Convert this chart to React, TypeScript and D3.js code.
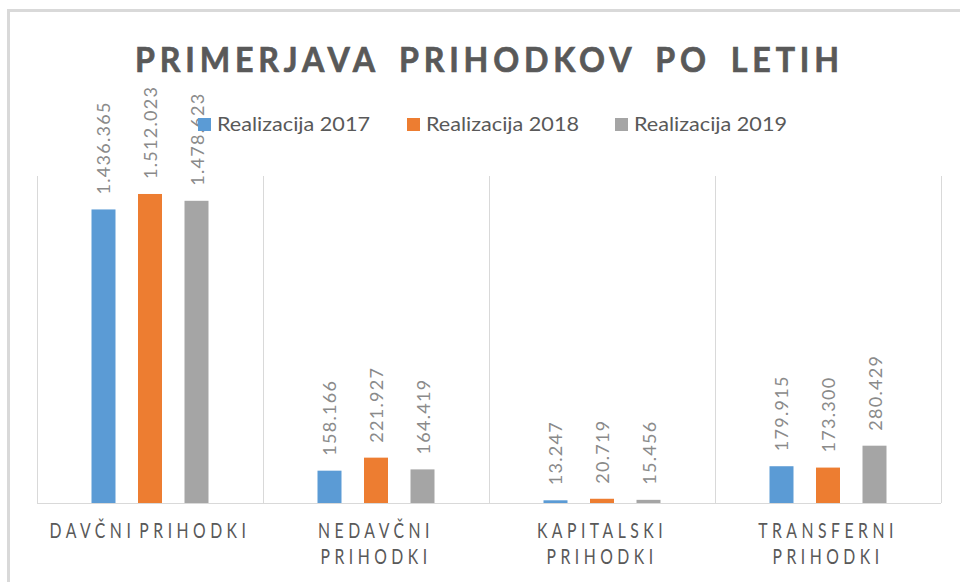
import React from "react";
import * as d3 from "d3";

const title = "PRIMERJAVA PRIHODKOV PO LETIH";
const categories = ["DAVČNI PRIHODKI", "NEDAVČNI PRIHODKI", "KAPITALSKI PRIHODKI", "TRANSFERNI PRIHODKI"];
const seriesNames = ["Realizacija 2017", "Realizacija 2018", "Realizacija 2019"];
const values2017 = [1436.365, 158.166, 13.247, 179.915];
const values2018 = [1512.023, 221.927, 20.719, 173.3];
const values2019 = [1478.623, 164.419, 15.456, 280.429];
const seriesValues = [values2017, values2018, values2019];
const colors = ["#5B9BD5", "#ED7D31", "#A5A5A5"];
const yMax = 1600;

const W = 960;
const H = 582;
const plot = { left: 37, right: 941, top: 176, bottom: 503 };

const fmt = (v: number) => {
  const s = v.toFixed(3);
  const [intPart, dec] = s.split(".");
  const withSep = intPart.replace(/\B(?=(\d{3})+(?!\d))/g, ".");
  return withSep + "." + dec;
};

function wrapLabel(label: string, maxChars: number): string[] {
  if (label.length <= maxChars) return [label];
  return label.split(" ");
}

export default function App() {
  const x0 = d3.scaleBand<string>().domain(categories).range([plot.left, plot.right]).padding(0);
  const x1 = d3
    .scaleBand<number>()
    .domain([0, 1, 2])
    .range([0, x0.bandwidth()])
    .paddingInner(0.484)
    .paddingOuter(1.172);
  const y = d3.scaleLinear().domain([0, yMax]).range([plot.bottom, plot.top]);

  const boundaries = [plot.left, ...categories.map((c) => (x0(c) as number) + x0.bandwidth())];

  const font = "Lato, 'Open Sans', 'DejaVu Sans', sans-serif";

  const legendX = [198, 407, 615];

  return (
    <svg
      width={W}
      height={H}
      style={{ position: "absolute", left: 0, top: 0, background: "#fff" }}
      fontFamily={font}
    >
      <rect x={0} y={0} width={W} height={H} fill="#fff" />
      <path d={`M8.5,${H} V10.5 H${W}`} fill="none" stroke="#d9d9d9" strokeWidth={3} />

      {/* title */}
      <text
        transform="translate(487,72) scale(0.92,1)"
        textAnchor="middle"
        fontSize={35}
        fontWeight="bold"
        fill="#595959"
        stroke="#595959"
        strokeWidth={0.7}
        wordSpacing={8}
        textLength={704 / 0.92}
        lengthAdjust="spacing"
      >
        {title}
      </text>

      {/* gridlines / separators */}
      {boundaries.map((bx, i) => (
        <line key={i} x1={bx + 0.5} x2={bx + 0.5} y1={plot.top} y2={plot.bottom} stroke="#d9d9d9" strokeWidth={1} />
      ))}
      <line x1={plot.left} x2={plot.right} y1={plot.bottom + 0.5} y2={plot.bottom + 0.5} stroke="#d9d9d9" strokeWidth={1} />

      {/* bars */}
      {categories.map((c, ci) =>
        seriesValues.map((vals, si) => {
          const bx = (x0(c) as number) + (x1(si) as number);
          const bw = x1.bandwidth();
          const top = y(vals[ci]);
          return (
            <rect
              key={`${ci}-${si}`}
              x={bx}
              y={top}
              width={bw}
              height={plot.bottom - top}
              fill={colors[si]}
            />
          );
        })
      )}

      {/* data labels */}
      {categories.map((c, ci) =>
        seriesValues.map((vals, si) => {
          const cx = (x0(c) as number) + (x1(si) as number) + x1.bandwidth() / 2;
          const top = y(vals[ci]);
          return (
            <text
              key={`l-${ci}-${si}`}
              transform={`translate(${cx + 7},${top - 15}) rotate(-90)`}
              fontSize={18}
              fill="#8a8a8a"
              letterSpacing={1.3}
            >
              {fmt(vals[ci])}
            </text>
          );
        })
      )}

      {/* legend */}
      {seriesNames.map((n, i) => (
        <g key={n}>
          <rect x={legendX[i]} y={118} width={13} height={13} fill={colors[i]} />
          <text
            x={legendX[i] + 19}
            y={131}
            fontSize={20}
            fill="#595959"
            textLength={153}
            lengthAdjust="spacingAndGlyphs"
          >
            {n}
          </text>
        </g>
      ))}

      {/* category labels */}
      {categories.map((c) => {
        const cx = (x0(c) as number) + x0.bandwidth() / 2;
        const lines = wrapLabel(c, 15);
        return lines.map((ln, li) => (
          <text
            key={`${c}-${li}`}
            transform={`translate(${cx},${538 + li * 26}) scale(0.75,1)`}
            textAnchor="middle"
            fontSize={21}
            fill="#595959"
            letterSpacing={6}
            wordSpacing={-6}
          >
            {ln}
          </text>
        ));
      })}
    </svg>
  );
}
